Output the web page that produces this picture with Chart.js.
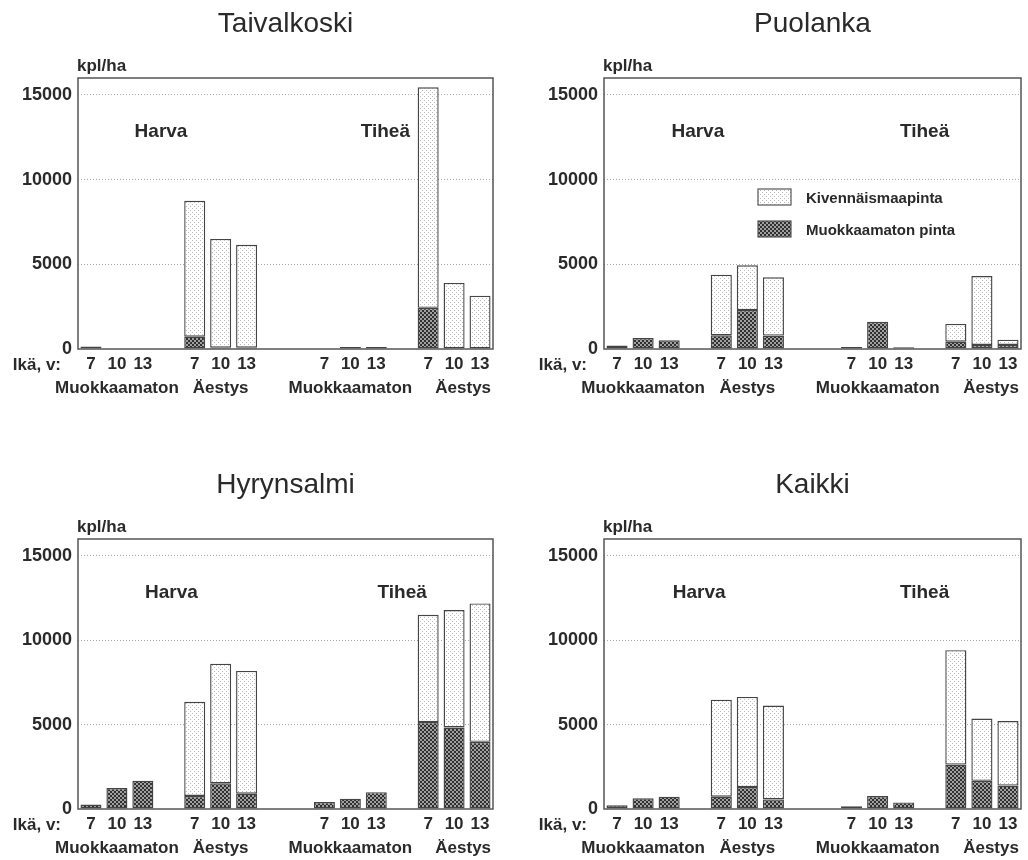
<!DOCTYPE html>
<html><head><meta charset="utf-8">
<script src="https://cdn.jsdelivr.net/npm/chart.js@4.4.1/dist/chart.umd.min.js"></script>
<style>
html,body{margin:0;padding:0;background:#fff;width:1028px;height:860px;overflow:hidden;position:relative}
canvas{position:absolute;display:block}
</style></head><body>
<canvas id="c1" width="514" height="400" style="left:0;top:0"></canvas>
<canvas id="c2" width="502" height="400" style="left:526px;top:0"></canvas>
<canvas id="c3" width="514" height="399" style="left:0;top:461px"></canvas>
<canvas id="c4" width="502" height="399" style="left:526px;top:461px"></canvas>
<script>
// ---- data ----
const categories = ['7','10','13','', '7','10','13','','', '7','10','13','', '7','10','13'];
const groupLabels = ['Muokkaamaton','Äestys','Muokkaamaton','Äestys'];
const densityLabels = ['Harva','Tiheä'];
const seriesNames = ['Kivennäismaapinta','Muokkaamaton pinta'];
const yTickValues = [0,5000,10000,15000];
const unitLabel = 'kpl/ha';
const ageLabel = 'Ikä, v:';
const panelTitles = ['Taivalkoski','Puolanka','Hyrynsalmi','Kaikki'];

const taivalkoskiMuokkaamaton = [150,null,null,null, 730,80,80, null,null, null,120,120, null, 2430,null,null];
const taivalkoskiKivennais    = [null,null,null,null, 8020,6420,6070, null,null, null,null,null, null, 13020,3900,3150];
const puolankaMuokkaamaton    = [200,650,510,null, 810,2300,790, null,null, 120,1610,100, null, 430,240,240];
const puolankaKivennais       = [null,null,null,null, 3580,2640,3440, null,null, null,null,null, null, 1050,4070,310];
const hyrynsalmiMuokkaamaton  = [260,1240,1680,null, 770,1520,910, null,null, 410,610,1000, null, 5150,4830,3980];
const hyrynsalmiKivennais     = [null,null,null,null, 5580,7090,7270, null,null, null,null,null, null, 6360,6960,8200];
const kaikkiMuokkaamaton      = [220,630,730,null, 730,1300,570, null,null, 160,770,390, null, 2630,1670,1390];
const kaikkiKivennais         = [null,null,null,null, 5750,5340,5560, null,null, null,null,null, null, 6780,3690,3820];

// ---- styles ----
const TXT = '#2a2a2a';
const FONT = '"Liberation Sans", Arial, sans-serif';
function makePattern(bg, fg, cells){
  const c = document.createElement('canvas'); c.width = 4; c.height = 4;
  const g = c.getContext('2d'); g.fillStyle = bg; g.fillRect(0,0,4,4);
  g.fillStyle = fg; cells.forEach(([x,y,s]) => g.fillRect(x,y,s,s));
  return g.createPattern(c,'repeat');
}
const lightPattern = makePattern('#ffffff','#bcbcbc',[[0,0,1],[2,2,1]]);
const darkPattern  = makePattern('#a0a0a0','#303030',[[0,0,2],[2,2,2]]);

const decor = {
  id: 'decor',
  afterDatasetsDraw(chart, args, o){
    const {ctx, chartArea:a, scales:{x, y}} = chart;
    ctx.save();
    ctx.strokeStyle = '#555'; ctx.lineWidth = 1.5;
    ctx.strokeRect(a.left, a.top, a.right - a.left, a.bottom - a.top);
    ctx.fillStyle = TXT;
    ctx.font = 'bold 17px ' + FONT;
    ctx.textBaseline = 'alphabetic';
    ctx.textAlign = 'left';
    ctx.fillText(unitLabel, a.left - 1, a.top - 7);
    ctx.textAlign = 'right';
    ctx.fillText(ageLabel, a.left - 17, a.bottom + 21);
    ctx.textAlign = 'center';
    const gp = [1, 5, 10, 14.35];
    groupLabels.forEach((g, i) => ctx.fillText(g, x.getPixelForValue(gp[i]), a.bottom + 44));
    ctx.font = 'bold 19px ' + FONT;
    ctx.textBaseline = 'middle';
    ctx.fillText(densityLabels[0], x.getPixelForValue(o.harvaX), y.getPixelForValue(12800));
    ctx.fillText(densityLabels[1], x.getPixelForValue(o.tiheaX), y.getPixelForValue(12800));
    if (o.legend){
      const items = [[lightPattern, seriesNames[0]], [darkPattern, seriesNames[1]]];
      items.forEach(([p, t], i) => {
        const bx = a.left + 154, by = a.top + 111 + i * 32;
        ctx.fillStyle = p; ctx.fillRect(bx, by, 33, 16);
        ctx.strokeStyle = '#555'; ctx.lineWidth = 1.2; ctx.strokeRect(bx, by, 33, 16);
        ctx.fillStyle = TXT; ctx.font = 'bold 15px ' + FONT;
        ctx.textAlign = 'left'; ctx.textBaseline = 'middle';
        ctx.fillText(t, a.left + 202, by + 10);
      });
    }
    ctx.restore();
  }
};

const panels = [
  {id:'c1', title:panelTitles[0], dark:taivalkoskiMuokkaamaton, light:taivalkoskiKivennais, harvaX:2.7, tiheaX:11.35, legend:false, padRight:21},
  {id:'c2', title:panelTitles[1], dark:puolankaMuokkaamaton, light:puolankaKivennais, harvaX:3.1, tiheaX:11.8, legend:true, padRight:7},
  {id:'c3', title:panelTitles[2], dark:hyrynsalmiMuokkaamaton, light:hyrynsalmiKivennais, harvaX:3.1, tiheaX:12.0, legend:false, padRight:21},
  {id:'c4', title:panelTitles[3], dark:kaikkiMuokkaamaton, light:kaikkiKivennais, harvaX:3.15, tiheaX:11.8, legend:false, padRight:7},
];

panels.forEach(p => {
  new Chart(document.getElementById(p.id), {
    type: 'bar',
    data: {
      labels: categories,
      datasets: [
        {label: seriesNames[1], data: p.dark, backgroundColor: darkPattern, borderColor: '#444', borderWidth: 1.4, borderSkipped: false},
        {label: seriesNames[0], data: p.light, backgroundColor: lightPattern, borderColor: '#444', borderWidth: 1.4, borderSkipped: false}
      ]
    },
    options: {
      responsive: false,
      animation: false,
      events: [],
      layout: {padding: {left: 0, right: p.padRight, top: 0, bottom: 0}},
      datasets: {bar: {barPercentage: 0.81, categoryPercentage: 1}},
      plugins: {
        legend: {display: false},
        tooltip: {enabled: false},
        title: {display: true, text: p.title, fullSize: false, color: TXT,
                font: {family: FONT, size: 28, weight: 'normal', lineHeight: 1.2},
                padding: {top: 7, bottom: 37.4}},
        decor: {harvaX: p.harvaX, tiheaX: p.tiheaX, legend: p.legend}
      },
      scales: {
        x: {
          stacked: true,
          grid: {display: false},
          border: {display: false},
          ticks: {autoSkip: false, maxRotation: 0, padding: -3, color: TXT, font: {family: FONT, size: 17, weight: 'bold'}},
          afterFit: s => { s.height = 51; }
        },
        y: {
          stacked: true, min: 0, max: 16000,
          afterBuildTicks: s => { s.ticks = yTickValues.map(v => ({value: v})); },
          grid: {drawTicks: false, lineWidth: 1, color: c => c.tick && c.tick.value === 0 ? 'rgba(0,0,0,0)' : '#a8a8a8'},
          border: {display: false, dash: [1, 2]},
          ticks: {padding: 6, color: TXT, font: {family: FONT, size: 18, weight: 'bold'}, callback: v => String(v)},
          afterFit: s => { s.width = 78; }
        }
      }
    },
    plugins: [decor]
  });
});
</script>
</body></html>
